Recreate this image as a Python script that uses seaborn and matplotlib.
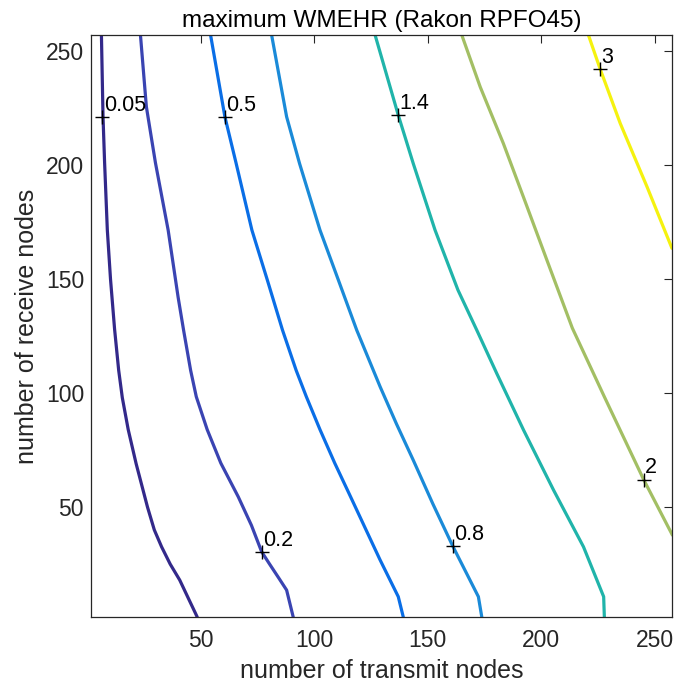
import numpy as np
import pandas as pd
import seaborn as sns
import matplotlib.pyplot as plt

# contour levels of the maximum WMEHR
levels = [0.05, 0.2, 0.5, 0.8, 1.4, 2, 3]
level_colors = ['#33298a', '#3a44b2', '#0a6ee6', '#1a8ad8', '#20b4aa', '#a3bf64', '#f5f20f']

# (transmit nodes, receive nodes) along each contour
tx_005 = [6.2, 6.9, 7.6, 8.8, 10.2, 12.0, 13.8, 15.4, 18.0, 21.5, 26.5, 29.5, 32.7, 36.5, 40.7, 44.5, 47.6, 48.4]
rx_005 = [257, 221.2, 201, 171.5, 150, 128, 110, 98, 84, 69, 50, 40, 32.6, 25, 18, 10, 3.5, 1.8]

tx_02 = [23.4, 26.0, 30.0, 35.6, 40.0, 42.4, 45.5, 48.0, 52.8, 58.8, 66.5, 72.3, 76.8, 80.1, 84.6, 87.8, 90.7]
rx_02 = [257, 225.6, 201, 171.5, 142, 127.6, 110, 98.4, 84, 69.3, 54.5, 42, 30.4, 25.3, 18.5, 13.6, 1.8]

tx_05 = [54.3, 60.6, 65.5, 72.5, 79.3, 86.0, 92.0, 96.5, 102.5, 109.0, 116.0, 122.8, 129.0, 137.0, 139.2]
rx_05 = [257, 221.2, 201, 171.5, 149.6, 127.6, 110, 98.4, 84, 69.3, 54.5, 40, 26.8, 10.7, 1.8]

tx_08 = [81.2, 87.8, 93.5, 102.5, 110.6, 118.7, 129.0, 136.2, 143.6, 152.2, 161.0, 172.3, 173.8]
rx_08 = [257, 221.2, 200.7, 171.5, 149.6, 127.6, 102.8, 86.5, 70.6, 51.5, 32.9, 10.7, 1.8]

tx_14 = [126.8, 137.0, 143.6, 153.2, 163.3, 171.6, 180.4, 192.2, 205.4, 218.6, 227.5, 227.8]
rx_14 = [257, 221.9, 200.7, 171.5, 145.2, 127.6, 108.6, 83.8, 57.5, 32.6, 10.7, 1.8]

tx_2 = [165.0, 173.1, 183.3, 193.2, 202.5, 213.7, 227.8, 245.1, 257.8]
rx_2 = [257, 234.3, 209.5, 183.2, 158.3, 128.5, 98.4, 62.1, 37.7]

tx_3 = [220.8, 226.0, 234.8, 246.6, 257.6]
rx_3 = [257, 242.0, 218.3, 190.5, 163.5]

# positions of the inline labels (clabel '+' markers)
label_text = ['0.05', '0.2', '0.5', '0.8', '1.4', '2', '3']
label_tx = [6.6, 76.8, 60.6, 161.0, 137.0, 245.1, 226.0]
label_rx = [221.2, 30.4, 221.2, 32.9, 221.9, 62.1, 242.0]

contours = [(tx_005, rx_005), (tx_02, rx_02), (tx_05, rx_05), (tx_08, rx_08),
            (tx_14, rx_14), (tx_2, rx_2), (tx_3, rx_3)]

sns.set_theme(style='white')
plt.rcParams['font.family'] = ['Liberation Sans', 'DejaVu Sans']
plt.rcParams['xtick.direction'] = 'in'
plt.rcParams['ytick.direction'] = 'in'

fig = plt.figure(figsize=(6.74, 6.89), dpi=100)
ax = fig.add_axes([0.135, 0.1045, 0.862, 0.8445])

for (tx, rx), lev, col in zip(contours, levels, level_colors):
    df = pd.DataFrame({'tx': tx, 'rx': rx})
    sns.lineplot(data=df, x='tx', y='rx', sort=False, estimator=None,
                 color=col, lw=2.3, ax=ax)

labels_df = pd.DataFrame({'tx': label_tx, 'rx': label_rx, 'text': label_text})
sns.scatterplot(data=labels_df, x='tx', y='rx', marker='+', color='black',
                s=110, linewidth=1.0, ax=ax, zorder=5)
for _, row in labels_df.iterrows():
    ax.text(row.tx + 0.6, row.rx + 0.5, row.text, ha='left', va='bottom',
            fontsize=15.5, color='black', zorder=6)

ax.set_xlim(1.6, 257.6)
ax.set_ylim(1.8, 257)
ax.set_xticks([50, 100, 150, 200, 250])
ax.set_yticks([50, 100, 150, 200, 250])

txtcol = '#262626'
for s in ax.spines.values():
    s.set_color(txtcol)
    s.set_linewidth(0.9)
ax.tick_params(axis='both', which='both', direction='in', length=6, width=0.8,
               colors=txtcol, labelsize=16.5, top=True, right=True,
               labelcolor=txtcol)
ax.tick_params(axis='x', pad=9)
ax.tick_params(axis='y', pad=5)

ax.set_xlabel('number of transmit nodes', fontsize=18, color=txtcol, labelpad=5)
ax.set_ylabel('number of receive nodes', fontsize=18, color=txtcol, labelpad=5)
ax.set_title('maximum WMEHR (Rakon RPFO45)', fontsize=17.5, color='black', pad=6)

fig.savefig('out.png', dpi=100)
